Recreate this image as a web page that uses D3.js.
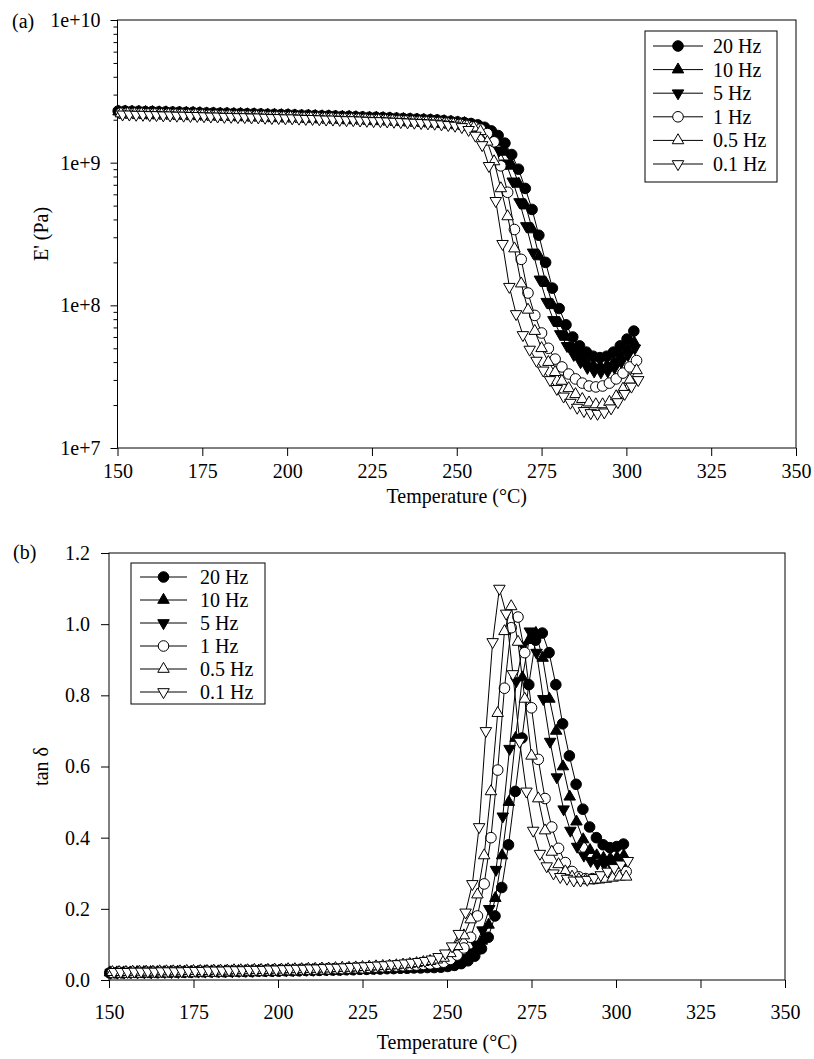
<!DOCTYPE html>
<html>
<head>
<meta charset="utf-8">
<script src="https://cdn.jsdelivr.net/npm/d3@7"></script>
<style>
  html, body { margin: 0; padding: 0; background: #fff; }
  svg { display: block; }
  text { font-family: "Liberation Serif", "Times New Roman", Times, serif; fill: #000; }
</style>
</head>
<body>
<svg id="chart" width="814" height="1059"></svg>
<script>
// ---- data -----------------------------------------------------------------
const frequencies = ["20 Hz", "10 Hz", "5 Hz", "1 Hz", "0.5 Hz", "0.1 Hz"];

// nominal temperature steps of the ramp (°C)
const temperature = [
  150,152,154,156,158,160,162,164,166,168,
  170,172,174,176,178,180,182,184,186,188,
  190,192,194,196,198,200,202,204,206,208,
  210,212,214,216,218,220,222,224,226,228,
  230,232,234,236,238,240,242,244,246,248,
  250,252,254,256,258,260,262,264,266,268,
  270,272,274,276,278,280,282,284,286,288,
  290,292,294,296,298,300,302
];
// lag of the measured temperature behind the nominal step, per frequency (°C)
const tempOffset = [0.2, 0.3, 0.5, 1.0, 1.0, 1.5];

// storage modulus E' (Pa)
const E_20Hz = [
  2.30e9,2.30e9,2.29e9,2.29e9,2.28e9,2.28e9,2.27e9,2.27e9,2.26e9,2.26e9,
  2.25e9,2.25e9,2.24e9,2.23e9,2.23e9,2.22e9,2.22e9,2.21e9,2.21e9,2.20e9,
  2.20e9,2.19e9,2.18e9,2.18e9,2.17e9,2.17e9,2.16e9,2.15e9,2.15e9,2.14e9,
  2.13e9,2.13e9,2.12e9,2.11e9,2.11e9,2.10e9,2.09e9,2.08e9,2.08e9,2.07e9,
  2.06e9,2.05e9,2.04e9,2.03e9,2.02e9,2.01e9,2.00e9,1.99e9,1.97e9,1.95e9,
  1.93e9,1.91e9,1.88e9,1.84e9,1.77e9,1.67e9,1.55e9,1.37e9,1.14e9,9.0e8,
  6.6e8,4.7e8,3.1e8,2.0e8,1.32e8,9.5e7,7.3e7,6.0e7,5.2e7,4.7e7,
  4.4e7,4.3e7,4.4e7,4.7e7,5.2e7,5.8e7,6.6e7
];
const E_10Hz = [
  2.28e9,2.28e9,2.27e9,2.27e9,2.26e9,2.26e9,2.25e9,2.25e9,2.24e9,2.24e9,
  2.23e9,2.23e9,2.22e9,2.21e9,2.21e9,2.20e9,2.20e9,2.19e9,2.19e9,2.18e9,
  2.18e9,2.17e9,2.16e9,2.16e9,2.15e9,2.15e9,2.14e9,2.13e9,2.13e9,2.12e9,
  2.11e9,2.11e9,2.10e9,2.09e9,2.09e9,2.08e9,2.07e9,2.06e9,2.06e9,2.05e9,
  2.04e9,2.03e9,2.02e9,2.01e9,2.00e9,1.99e9,1.98e9,1.97e9,1.95e9,1.93e9,
  1.91e9,1.89e9,1.85e9,1.78e9,1.69e9,1.57e9,1.40e9,1.19e9,9.5e8,7.1e8,
  5.0e8,3.4e8,2.2e8,1.43e8,1.0e8,7.5e7,6.0e7,5.0e7,4.4e7,4.0e7,
  3.8e7,3.75e7,3.8e7,4.0e7,4.4e7,4.9e7,5.5e7
];
const E_5Hz = [
  2.26e9,2.26e9,2.25e9,2.25e9,2.24e9,2.24e9,2.23e9,2.23e9,2.22e9,2.22e9,
  2.21e9,2.21e9,2.20e9,2.19e9,2.19e9,2.18e9,2.18e9,2.17e9,2.17e9,2.16e9,
  2.16e9,2.15e9,2.14e9,2.14e9,2.13e9,2.13e9,2.12e9,2.11e9,2.11e9,2.10e9,
  2.09e9,2.09e9,2.08e9,2.07e9,2.07e9,2.06e9,2.05e9,2.04e9,2.04e9,2.03e9,
  2.02e9,2.01e9,2.00e9,1.99e9,1.98e9,1.97e9,1.96e9,1.95e9,1.93e9,1.91e9,
  1.89e9,1.86e9,1.80e9,1.71e9,1.60e9,1.44e9,1.22e9,9.9e8,7.4e8,5.3e8,
  3.6e8,2.35e8,1.52e8,1.06e8,7.9e7,6.3e7,5.2e7,4.5e7,4.0e7,3.65e7,
  3.45e7,3.4e7,3.45e7,3.65e7,4.0e7,4.5e7,5.0e7
];
const E_1Hz = [
  2.23e9,2.23e9,2.22e9,2.22e9,2.21e9,2.21e9,2.20e9,2.20e9,2.19e9,2.19e9,
  2.18e9,2.18e9,2.17e9,2.16e9,2.16e9,2.15e9,2.15e9,2.14e9,2.14e9,2.13e9,
  2.13e9,2.12e9,2.11e9,2.11e9,2.10e9,2.10e9,2.09e9,2.08e9,2.08e9,2.07e9,
  2.06e9,2.06e9,2.05e9,2.04e9,2.04e9,2.03e9,2.02e9,2.01e9,2.01e9,2.00e9,
  1.99e9,1.98e9,1.97e9,1.96e9,1.95e9,1.94e9,1.93e9,1.92e9,1.90e9,1.88e9,
  1.86e9,1.83e9,1.79e9,1.72e9,1.60e9,1.40e9,9.5e8,6.2e8,3.4e8,2.1e8,
  1.22e8,8.5e7,6.4e7,5.0e7,4.2e7,3.7e7,3.3e7,3.05e7,2.85e7,2.72e7,
  2.68e7,2.72e7,2.85e7,3.05e7,3.35e7,3.7e7,4.1e7
];
const E_05Hz = [
  2.21e9,2.21e9,2.20e9,2.20e9,2.19e9,2.19e9,2.18e9,2.18e9,2.17e9,2.17e9,
  2.16e9,2.16e9,2.15e9,2.14e9,2.14e9,2.13e9,2.13e9,2.12e9,2.12e9,2.11e9,
  2.11e9,2.10e9,2.09e9,2.09e9,2.08e9,2.08e9,2.07e9,2.06e9,2.06e9,2.05e9,
  2.04e9,2.04e9,2.03e9,2.02e9,2.02e9,2.01e9,2.00e9,1.99e9,1.99e9,1.98e9,
  1.97e9,1.96e9,1.95e9,1.94e9,1.93e9,1.92e9,1.91e9,1.89e9,1.87e9,1.86e9,
  1.84e9,1.81e9,1.76e9,1.66e9,1.40e9,1.02e9,6.6e8,4.2e8,2.5e8,1.42e8,
  9.3e7,6.6e7,5.0e7,4.0e7,3.4e7,2.95e7,2.62e7,2.38e7,2.2e7,2.08e7,
  2.02e7,2.02e7,2.1e7,2.3e7,2.6e7,3.0e7,3.5e7
];
const E_01Hz = [
  2.18e9,2.18e9,2.17e9,2.17e9,2.16e9,2.16e9,2.15e9,2.15e9,2.14e9,2.14e9,
  2.13e9,2.13e9,2.12e9,2.11e9,2.11e9,2.10e9,2.10e9,2.09e9,2.09e9,2.08e9,
  2.08e9,2.07e9,2.06e9,2.06e9,2.05e9,2.05e9,2.04e9,2.03e9,2.03e9,2.02e9,
  2.01e9,2.01e9,2.00e9,1.99e9,1.99e9,1.98e9,1.97e9,1.96e9,1.96e9,1.95e9,
  1.94e9,1.93e9,1.92e9,1.91e9,1.90e9,1.89e9,1.88e9,1.86e9,1.84e9,1.82e9,
  1.78e9,1.70e9,1.55e9,1.33e9,9.5e8,5.4e8,2.7e8,1.35e8,8.7e7,6.2e7,
  4.9e7,4.1e7,3.5e7,3.0e7,2.6e7,2.3e7,2.08e7,1.92e7,1.82e7,1.76e7,
  1.74e7,1.78e7,1.9e7,2.1e7,2.4e7,2.7e7,3.0e7
];

// loss tangent tan δ
const tan_20Hz = [
  0.020,0.020,0.020,0.021,0.021,0.021,0.021,0.021,0.022,0.022,
  0.022,0.022,0.022,0.023,0.023,0.023,0.023,0.023,0.024,0.024,
  0.024,0.024,0.025,0.025,0.025,0.025,0.026,0.026,0.026,0.027,
  0.027,0.027,0.028,0.028,0.028,0.029,0.029,0.030,0.030,0.031,
  0.031,0.032,0.032,0.033,0.033,0.034,0.034,0.035,0.035,0.036,
  0.038,0.041,0.046,0.054,0.067,0.088,0.12,0.18,0.26,0.38,
  0.53,0.68,0.83,0.955,0.975,0.92,0.83,0.72,0.63,0.55,
  0.48,0.43,0.40,0.38,0.372,0.375,0.382
];
const tan_10Hz = [
  0.021,0.021,0.021,0.021,0.022,0.022,0.022,0.022,0.022,0.023,
  0.023,0.023,0.023,0.023,0.024,0.024,0.024,0.024,0.024,0.025,
  0.025,0.025,0.026,0.026,0.026,0.026,0.027,0.027,0.027,0.028,
  0.028,0.028,0.029,0.029,0.029,0.030,0.030,0.031,0.031,0.032,
  0.032,0.033,0.033,0.034,0.035,0.035,0.036,0.037,0.038,0.039,
  0.041,0.046,0.054,0.065,0.082,0.11,0.155,0.23,0.35,0.50,
  0.68,0.85,0.955,0.975,0.905,0.79,0.70,0.60,0.515,0.445,
  0.395,0.365,0.35,0.343,0.342,0.345,0.35
];
const tan_5Hz = [
  0.021,0.021,0.022,0.022,0.022,0.022,0.022,0.023,0.023,0.023,
  0.023,0.024,0.024,0.024,0.024,0.025,0.025,0.025,0.025,0.026,
  0.026,0.026,0.027,0.027,0.027,0.028,0.028,0.028,0.029,0.029,
  0.029,0.030,0.030,0.031,0.031,0.032,0.032,0.033,0.033,0.034,
  0.035,0.035,0.036,0.037,0.038,0.039,0.040,0.041,0.042,0.044,
  0.046,0.052,0.062,0.078,0.10,0.14,0.20,0.31,0.46,0.65,
  0.84,0.94,0.98,0.92,0.79,0.67,0.57,0.48,0.42,0.375,
  0.35,0.335,0.328,0.325,0.325,0.328,0.33
];
const tan_1Hz = [
  0.021,0.022,0.022,0.022,0.022,0.023,0.023,0.023,0.023,0.024,
  0.024,0.024,0.024,0.025,0.025,0.025,0.025,0.026,0.026,0.026,
  0.027,0.027,0.027,0.028,0.028,0.028,0.029,0.029,0.030,0.030,
  0.030,0.031,0.031,0.032,0.032,0.033,0.034,0.034,0.035,0.036,
  0.037,0.038,0.039,0.040,0.041,0.042,0.044,0.045,0.047,0.050,
  0.058,0.07,0.09,0.12,0.18,0.27,0.40,0.59,0.82,0.99,
  1.02,0.92,0.765,0.62,0.51,0.43,0.37,0.33,0.305,0.29,
  0.285,0.285,0.287,0.29,0.295,0.30,0.305
];
const tan_05Hz = [
  0.022,0.022,0.022,0.023,0.023,0.023,0.023,0.024,0.024,0.024,
  0.024,0.025,0.025,0.025,0.025,0.026,0.026,0.026,0.027,0.027,
  0.027,0.028,0.028,0.028,0.029,0.029,0.030,0.030,0.030,0.031,
  0.031,0.032,0.032,0.033,0.034,0.034,0.035,0.036,0.037,0.038,
  0.039,0.040,0.041,0.043,0.045,0.047,0.050,0.053,0.057,0.062,
  0.075,0.095,0.125,0.17,0.24,0.35,0.53,0.75,0.98,1.05,
  0.95,0.79,0.63,0.51,0.42,0.36,0.325,0.305,0.29,0.283,
  0.28,0.28,0.282,0.284,0.287,0.29,0.29
];
const tan_01Hz = [
  0.023,0.023,0.023,0.024,0.024,0.024,0.024,0.025,0.025,0.025,
  0.025,0.026,0.026,0.026,0.027,0.027,0.027,0.028,0.028,0.028,
  0.029,0.029,0.029,0.030,0.030,0.031,0.031,0.032,0.032,0.033,
  0.033,0.034,0.035,0.035,0.036,0.037,0.038,0.039,0.040,0.041,
  0.042,0.044,0.045,0.047,0.049,0.051,0.054,0.058,0.065,0.075,
  0.095,0.13,0.19,0.27,0.43,0.70,0.95,1.10,1.03,0.86,
  0.67,0.53,0.42,0.355,0.32,0.30,0.29,0.285,0.28,0.28,
  0.282,0.287,0.295,0.305,0.315,0.325,0.335
];

// axis ticks
const tempTicks = [150, 175, 200, 225, 250, 275, 300, 325, 350];
const modulusTicks = [1e7, 1e8, 1e9, 1e10];
const modulusTickLabels = ["1e+7", "1e+8", "1e+9", "1e+10"];
const tanTicks = [0, 0.2, 0.4, 0.6, 0.8, 1.0, 1.2];
const tanTickLabels = ["0.0", "0.2", "0.4", "0.6", "0.8", "1.0", "1.2"];

// ---- marker styles --------------------------------------------------------
const markerShape = ["circle", "up", "down", "circle", "up", "down"];
const markerFilled = [true, true, true, false, false, false];

const modulusSeries = [E_20Hz, E_10Hz, E_5Hz, E_1Hz, E_05Hz, E_01Hz];
const tanSeries = [tan_20Hz, tan_10Hz, tan_5Hz, tan_1Hz, tan_05Hz, tan_01Hz];

const svg = d3.select("#chart");

const circleSym = d3.symbol().type(d3.symbolCircle).size(Math.PI * 5.3 * 5.3);
const triSide = 11.5;
const triSym = d3.symbol().type(d3.symbolTriangle).size(Math.sqrt(3) / 4 * triSide * triSide);

function drawMarker(sel, shape, filled) {
  sel.append("path")
    .attr("d", shape === "circle" ? circleSym() : triSym())
    .attr("transform", shape === "down" ? "rotate(180)" : null)
    .attr("fill", filled ? "#000" : "#fff")
    .attr("stroke", "#000")
    .attr("stroke-width", 1);
}

function seriesPoints(values, k) {
  return values.map((v, i) => ({ t: temperature[i] + tempOffset[k], v }));
}

function drawPanel(cfg) {
  const g = svg.append("g");
  const x = d3.scaleLinear().domain([150, 350]).range([cfg.left, cfg.right]);
  const y = cfg.yScale;

  // bottom axis
  const xAxis = g.append("g")
    .attr("transform", `translate(0,${cfg.bottom})`)
    .call(d3.axisBottom(x).tickValues(tempTicks).tickFormat(d3.format("d"))
      .tickSize(8).tickPadding(cfg.xPad).tickSizeOuter(0));
  xAxis.select(".domain").remove();
  xAxis.selectAll("line").attr("stroke", "#000");
  xAxis.selectAll("text").attr("font-size", 20).attr("font-family", null);

  // left axis
  const yAxis = g.append("g")
    .attr("transform", `translate(${cfg.left},0)`)
    .call(d3.axisLeft(y).tickValues(cfg.yTicks)
      .tickFormat((d, i) => cfg.yLabels[i])
      .tickSize(cfg.yTickLen).tickPadding(cfg.yPad).tickSizeOuter(0));
  yAxis.select(".domain").remove();
  yAxis.selectAll("line").attr("stroke", "#000");
  yAxis.selectAll("text").attr("font-size", 20).attr("font-family", null);

  if (cfg.minorTicks) {
    const minor = g.append("g")
      .attr("transform", `translate(${cfg.left},0)`)
      .call(d3.axisLeft(y).tickValues(cfg.minorTicks).tickFormat("")
        .tickSize(4).tickSizeOuter(0));
    minor.select(".domain").remove();
    minor.selectAll("line").attr("stroke", "#000");
  }

  // frame
  g.append("rect")
    .attr("x", cfg.left).attr("y", cfg.top)
    .attr("width", cfg.right - cfg.left).attr("height", cfg.bottom - cfg.top)
    .attr("fill", "none").attr("stroke", "#000").attr("stroke-width", 1);

  // series: connecting line, then symbols
  const line = d3.line().x(d => x(d.t)).y(d => y(d.v));
  cfg.series.forEach((values, k) => {
    const pts = seriesPoints(values, k);
    g.append("path").datum(pts).attr("d", line)
      .attr("fill", "none").attr("stroke", "#000").attr("stroke-width", 1);
    g.append("g").selectAll("g").data(pts).join("g")
      .attr("transform", d => `translate(${x(d.t)},${y(d.v)})`)
      .each(function () { drawMarker(d3.select(this), markerShape[k], markerFilled[k]); });
  });

  // legend
  const L = cfg.legend;
  g.append("rect")
    .attr("x", L.x).attr("y", L.y).attr("width", L.w).attr("height", L.h)
    .attr("fill", "#fff").attr("stroke", "#000").attr("stroke-width", 1);
  frequencies.forEach((name, k) => {
    const ry = L.firstRow + k * L.rowGap;
    g.append("line").attr("x1", L.lineX0).attr("x2", L.lineX1)
      .attr("y1", ry).attr("y2", ry).attr("stroke", "#000").attr("stroke-width", 1);
    const m = g.append("g").attr("transform", `translate(${(L.lineX0 + L.lineX1) / 2},${ry})`);
    drawMarker(m, markerShape[k], markerFilled[k]);
    g.append("text").attr("x", L.textX).attr("y", ry + 7)
      .attr("font-size", 20).text(name);
  });

  // titles
  g.append("text").attr("x", (cfg.left + cfg.right) / 2).attr("y", cfg.xTitleY)
    .attr("text-anchor", "middle").attr("font-size", 20).text("Temperature (°C)");
  g.append("text")
    .attr("transform", `translate(${cfg.yTitleX},${(cfg.top + cfg.bottom) / 2}) rotate(-90)`)
    .attr("text-anchor", "middle").attr("font-size", 20).text(cfg.yTitle);
  g.append("text").attr("x", cfg.tagX).attr("y", cfg.tagY)
    .attr("font-size", 20).text(cfg.tag);
}

// (a) storage modulus, logarithmic axis
const minorE = [];
[1e7, 1e8, 1e9].forEach(dec => [2, 3, 4, 5, 6, 7, 8, 9].forEach(m => minorE.push(dec * m)));

drawPanel({
  left: 117.5, right: 796, top: 20, bottom: 448, xPad: 8,
  yScale: d3.scaleLog().domain([1e7, 1e10]).range([448, 20]),
  yTicks: modulusTicks, yLabels: modulusTickLabels, yTickLen: 7, yPad: 10,
  minorTicks: minorE,
  series: modulusSeries,
  legend: { x: 645, y: 31, w: 132, h: 151, firstRow: 46, rowGap: 23.6,
            lineX0: 653, lineX1: 703, textX: 713 },
  xTitleY: 503, yTitleX: 48, yTitle: "E' (Pa)",
  tag: "(a)", tagX: 12, tagY: 28
});

// (b) loss tangent
drawPanel({
  left: 109, right: 785, top: 553, bottom: 980, xPad: 17,
  yScale: d3.scaleLinear().domain([0, 1.2]).range([980, 553]),
  yTicks: tanTicks, yLabels: tanTickLabels, yTickLen: 8, yPad: 11,
  minorTicks: null,
  series: tanSeries,
  legend: { x: 131, y: 563, w: 134, h: 141, firstRow: 577, rowGap: 23,
            lineX0: 140, lineX1: 187, textX: 200 },
  xTitleY: 1049, yTitleX: 48, yTitle: "tan δ",
  tag: "(b)", tagX: 13, tagY: 559
});
</script>
</body>
</html>
